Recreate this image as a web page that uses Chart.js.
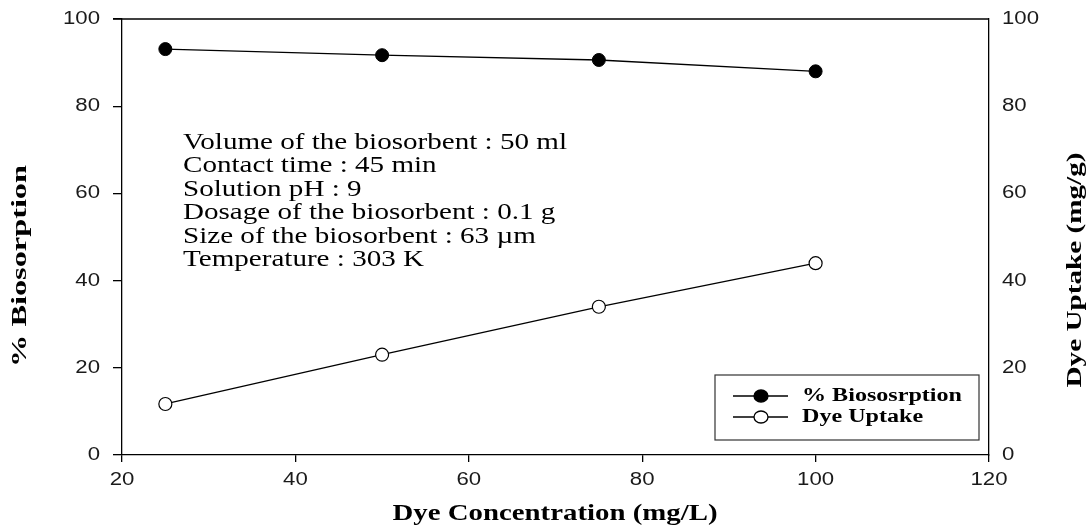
<!DOCTYPE html>
<html>
<head>
<meta charset="utf-8">
<script src="https://cdn.jsdelivr.net/npm/chart.js@4/dist/chart.umd.min.js"></script>
<style>
  html, body { margin: 0; padding: 0; background: #fff; }
  #wrap { width: 1089px; height: 527px; }
</style>
</head>
<body>
<div id="wrap"><canvas id="c" width="1089" height="527"></canvas></div>
<script>
var concentration = [25, 50, 75, 100];
var biosorption = [93.1, 91.7, 90.6, 88.0];
var dyeUptake = [11.7, 23.0, 34.0, 44.0];
var xTicks = [20, 40, 60, 80, 100, 120];
var yTicks = [0, 20, 40, 60, 80, 100];
var notes = [
    "Volume of the biosorbent : 50 ml",
    "Contact time : 45 min",
    "Solution pH : 9",
    "Dosage of the biosorbent : 0.1 g",
    "Size of the biosorbent : 63 \u00b5m",
    "Temperature : 303 K"
];
var legendLabels = ["% Biososrption", "Dye Uptake"];
var xTitle = "Dye Concentration (mg/L)";
var yTitle = "% Biosorption";
var y2Title = "Dye Uptake (mg/g)";

function pts(ys) {
    return concentration.map(function (x, i) { return { x: x, y: ys[i] }; });
}

var SERIF = "'Liberation Serif', 'Times New Roman', serif";
var SANS = "'Liberation Sans', Arial, sans-serif";

// text stretched horizontally, like the source figure
function wideText(ctx, txt, x, y, sx, align) {
    ctx.save();
    ctx.translate(x, y);
    ctx.scale(sx, 1);
    ctx.textAlign = align || "left";
    ctx.fillText(txt, 0, 0);
    ctx.restore();
}

function rotText(ctx, txt, cx, cy, len) {
    ctx.save();
    ctx.translate(cx, cy);
    ctx.rotate(-Math.PI / 2);
    var w = ctx.measureText(txt).width;
    ctx.scale(len / w, 1);
    ctx.textAlign = "center";
    ctx.fillText(txt, 0, 0);
    ctx.restore();
}

var overlay = {
    id: "overlay",
    afterDraw: function (chart) {
        var ctx = chart.ctx;
        var a = chart.chartArea;
        var sx = chart.scales.x, sy = chart.scales.y, sy2 = chart.scales.y2;
        ctx.save();
        ctx.fillStyle = "#000";
        ctx.textBaseline = "middle";

        // frame top
        ctx.strokeStyle = "#000";
        ctx.lineWidth = 1.3;
        ctx.beginPath();
        ctx.moveTo(113, a.top);
        ctx.lineTo(a.right, a.top);
        ctx.stroke();

        // tick labels
        ctx.font = "18px " + SANS;
        ctx.fillStyle = "#1a1a1a";
        var tsx = 37 / ctx.measureText("100").width;
        xTicks.forEach(function (v) {
            wideText(ctx, String(v), sx.getPixelForValue(v), 480, tsx, "center");
        });
        yTicks.forEach(function (v) {
            wideText(ctx, String(v), 100, sy.getPixelForValue(v), tsx, "right");
            wideText(ctx, String(v), 1002, sy2.getPixelForValue(v), tsx, "left");
        });

        // notes
        ctx.fillStyle = "#000";
        ctx.font = "23px " + SERIF;
        var nsx = 384 / ctx.measureText(notes[0]).width;
        notes.forEach(function (t, i) {
            wideText(ctx, t, 183, 143 + i * 23.4, nsx, "left");
        });

        // legend box
        ctx.lineWidth = 1.2;
        ctx.strokeStyle = "#333";
        ctx.strokeRect(715, 375, 264, 65);
        ctx.font = "bold 18px " + SERIF;
        var lsx = 160 / ctx.measureText(legendLabels[0]).width;
        legendLabels.forEach(function (t, i) {
            var y = 396 + i * 21;
            ctx.strokeStyle = "#000";
            ctx.lineWidth = 1.3;
            ctx.beginPath();
            ctx.moveTo(733, y);
            ctx.lineTo(788, y);
            ctx.stroke();
            ctx.beginPath();
            ctx.ellipse(761, y, 7, 6, 0, 0, Math.PI * 2);
            ctx.fillStyle = i === 0 ? "#000" : "#fff";
            ctx.fill();
            ctx.stroke();
            ctx.fillStyle = "#000";
            wideText(ctx, t, 802, y, lsx, "left");
        });

        // axis titles
        ctx.font = "bold 23px " + SERIF;
        var xsx = 325 / ctx.measureText(xTitle).width;
        wideText(ctx, xTitle, 555, 514, xsx, "center");

        ctx.font = "bold 20px " + SERIF;
        rotText(ctx, yTitle, 21, 266, 202);
        rotText(ctx, y2Title, 1076, 270, 235);

        ctx.restore();
    }
};

new Chart(document.getElementById("c"), {
    type: "line",
    data: {
        datasets: [{
            label: legendLabels[0],
            data: pts(biosorption),
            yAxisID: "y",
            borderColor: "#000",
            borderWidth: 1.3,
            pointBackgroundColor: "#000",
            pointBorderColor: "#000",
            pointRadius: 6.5,
            pointBorderWidth: 1,
            tension: 0
        }, {
            label: legendLabels[1],
            data: pts(dyeUptake),
            yAxisID: "y",
            borderColor: "#000",
            borderWidth: 1.3,
            pointBackgroundColor: "#fff",
            pointBorderColor: "#000",
            pointRadius: 6.5,
            pointBorderWidth: 1.2,
            tension: 0
        }]
    },
    options: {
        responsive: false,
        animation: false,
        layout: { padding: { top: 19, right: 0, bottom: 0, left: 0 } },
        plugins: { legend: { display: false }, tooltip: { enabled: false } },
        scales: {
            x: {
                type: "linear",
                min: 20, max: 120,
                afterBuildTicks: function (s) { s.ticks = xTicks.map(function (v) { return { value: v }; }); },
                afterFit: function (s) { s.height = 72; },
                border: { color: "#000", width: 1.3 },
                grid: { drawOnChartArea: false, drawTicks: true, tickLength: 7, color: "#000", lineWidth: 1.3 },
                ticks: { display: false }
            },
            y: {
                position: "left",
                min: 0, max: 100,
                afterBuildTicks: function (s) { s.ticks = yTicks.map(function (v) { return { value: v }; }); },
                afterFit: function (s) { s.width = 122; },
                border: { color: "#000", width: 1.3 },
                grid: { drawOnChartArea: false, drawTicks: true, tickLength: 9, color: "#000", lineWidth: 1.3 },
                ticks: { display: false }
            },
            y2: {
                position: "right",
                min: 0, max: 100,
                afterBuildTicks: function (s) { s.ticks = yTicks.map(function (v) { return { value: v }; }); },
                afterFit: function (s) { s.width = 100; },
                border: { color: "#000", width: 1.3 },
                grid: { drawOnChartArea: false, drawTicks: false },
                ticks: { display: false }
            }
        }
    },
    plugins: [overlay]
});
</script>
</body>
</html>
